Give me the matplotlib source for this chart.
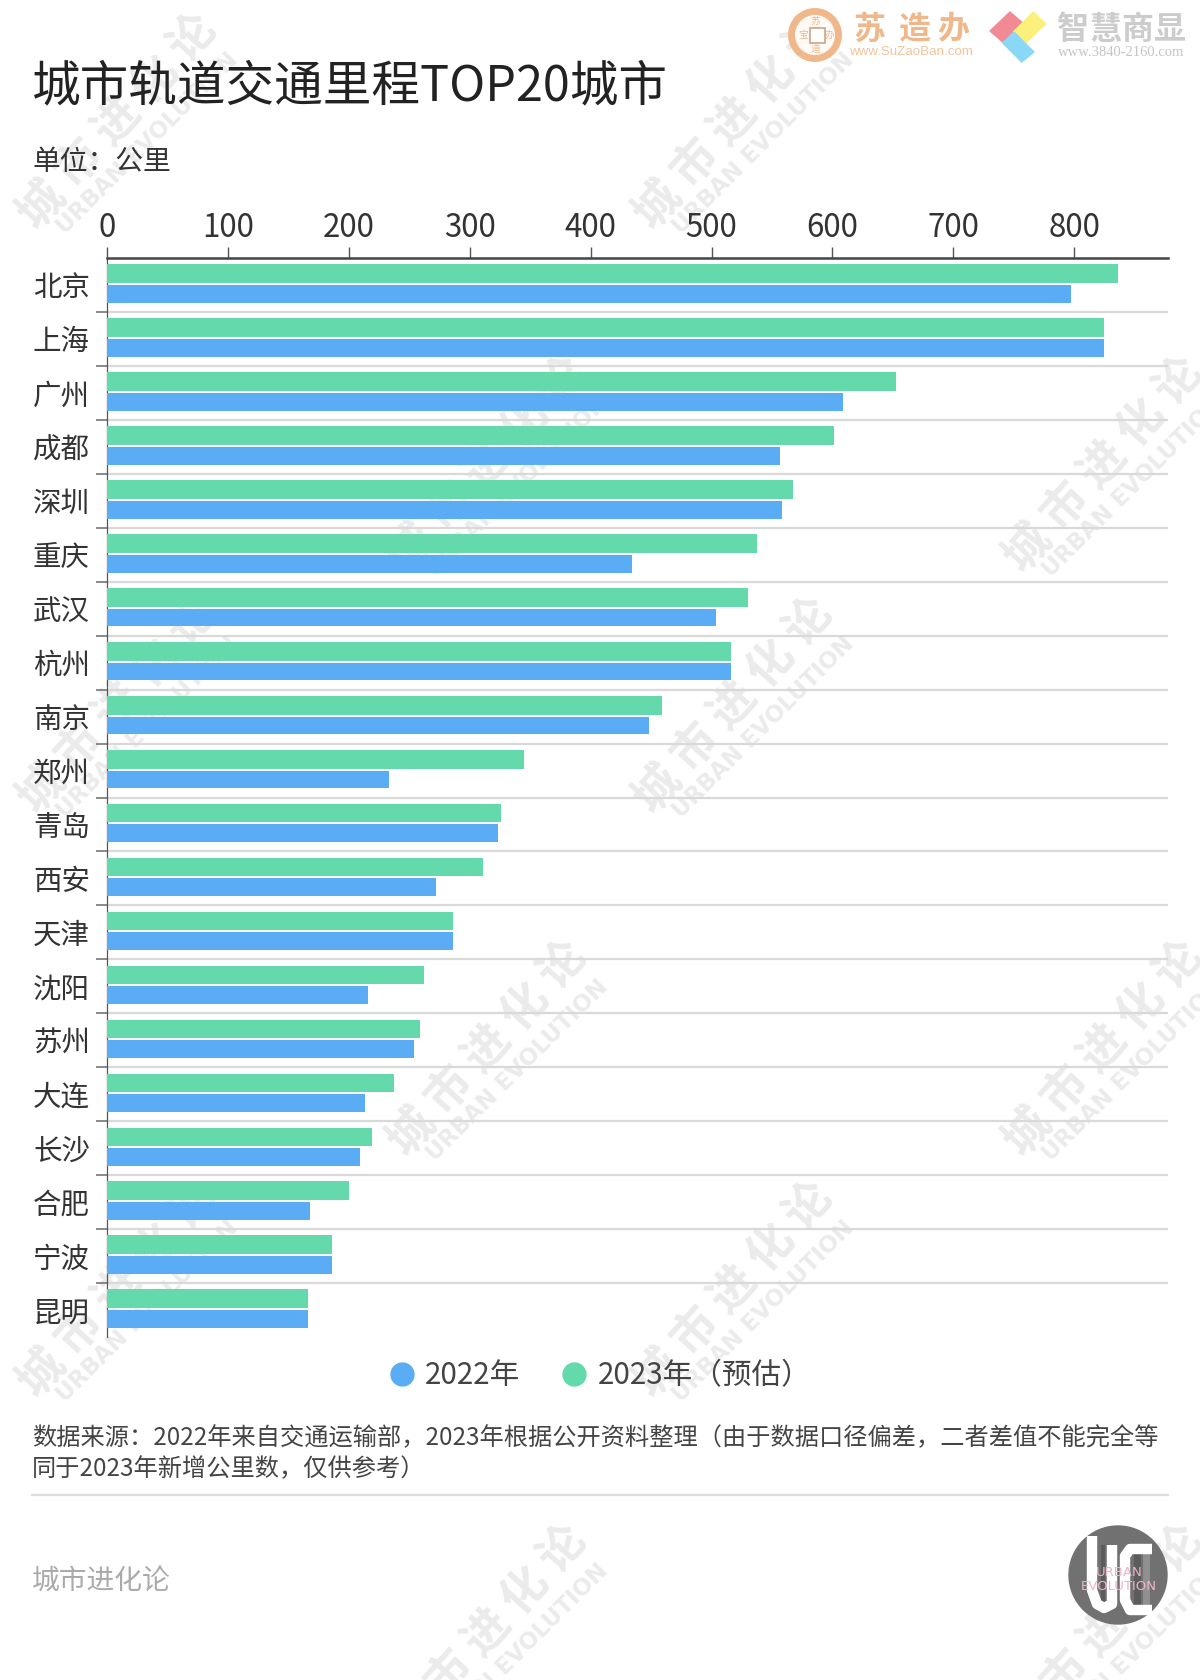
import matplotlib
matplotlib.use("Agg")
import matplotlib.pyplot as plt
from matplotlib.lines import Line2D
from matplotlib.patches import Polygon, Ellipse
import numpy as np

plt.rcParams['font.family'] = ['Noto Sans CJK SC', 'DejaVu Sans']

cities = ["北京", "上海", "广州", "成都", "深圳", "重庆", "武汉", "杭州", "南京", "郑州",
          "青岛", "西安", "天津", "沈阳", "苏州", "大连", "长沙", "合肥", "宁波", "昆明"]
km_2023 = [836, 825, 653, 601, 567, 538, 530, 516, 459, 345,
           326, 311, 286, 262, 259, 237, 219, 200, 186, 166]
km_2022 = [797, 825, 609, 557, 558, 434, 504, 516, 448, 233,
           323, 272, 286, 216, 254, 213, 209, 168, 186, 166]
xticks = [0, 100, 200, 300, 400, 500, 600, 700, 800]
series_names = ["2022年", "2023年（预估）"]

BLUE = "#5AADF5"
GREEN = "#64DAAC"
W, H = 1200, 1680

fig = plt.figure(figsize=(12, 16.8), dpi=100, facecolor="white")


def fx(x):
    return x / W


def fy(y):
    return 1 - y / H


def put(x, y, s, **kw):
    return fig.text(fx(x), fy(y), s, **kw)


def poly(points, **kw):
    fig.add_artist(Polygon([(fx(a), fy(b)) for a, b in points], closed=True, transform=fig.transFigure, **kw))


def path(points, **kw):
    fig.add_artist(Line2D([fx(a) for a, b in points], [fy(b) for a, b in points], **kw))


# watermarks behind everything
wm_color = "#ebebeb"
wm_centers = [(118, 123), (734, 123), (734, 707), (118, 707), (118, 1291), (734, 1291),
              (488, 466), (1104, 466), (488, 1050), (1104, 1050), (488, 1634), (1104, 1634)]
for cx, cy in wm_centers:
    put(cx, cy, "城 市 进 化 论", fontsize=33, fontweight="bold", color=wm_color, rotation=48,
        ha="center", va="center", rotation_mode="anchor", zorder=-5)
    put(cx + 29, cy + 20, "URBAN EVOLUTION", fontsize=16.5, fontweight="bold", color=wm_color,
        family="DejaVu Sans", rotation=45, ha="center", va="center", rotation_mode="anchor", zorder=-5)

# main axes
ax = fig.add_axes([fx(107), fy(1337), (1168 - 107) / W, (1337 - 258) / H])
ax.patch.set_alpha(0)
ax.set_xlim(0, (1168 - 107) / 1.209)
ax.set_ylim(20, 0)

y = np.arange(len(cities))
ax.barh(y + 0.29, km_2023, height=0.345, color=GREEN, zorder=3)
ax.barh(y + 0.665, km_2022, height=0.33, color=BLUE, zorder=3)

ax.xaxis.tick_top()
ax.set_xticks(xticks)
ax.set_xticklabels([str(v) for v in xticks], fontsize=22.5, color="#333333")
ax.tick_params(axis="x", length=8, width=1, color="#555555", pad=2)
ax.set_yticks(y + 0.5)
ax.set_yticklabels(cities, fontsize=20.5, color="#333333")
ax.tick_params(axis="y", length=0, pad=12.3)
ax.set_yticks(np.arange(1, 20), minor=True)
ax.tick_params(axis="y", which="minor", length=8, width=1.2, color="#777777")
ax.grid(axis="y", which="minor", color="#d9d9d9", lw=1.6, zorder=1)
for s in ("right", "bottom"):
    ax.spines[s].set_visible(False)
ax.spines["top"].set_color("#444444")
ax.spines["top"].set_linewidth(1.8)
ax.spines["left"].set_color("#555555")
ax.spines["left"].set_linewidth(0.9)

# legend
handles = [Line2D([], [], ls="", marker="o", ms=16.5, color=BLUE),
           Line2D([], [], ls="", marker="o", ms=16.5, color=GREEN)]
fig.legend(handles, series_names, loc="center", bbox_to_anchor=(fx(599), fy(1376)), ncol=2, frameon=False,
           fontsize=21.3, labelcolor="#444444", handlelength=1.0, handletextpad=0.3, columnspacing=1.3, borderpad=0)

# titles
put(32, 87, "城市轨道交通里程TOP20城市", fontsize=35, color="#222222", va="center", fontweight="medium")
put(32, 162, "单位：公里", fontsize=20, color="#333333", va="center")
put(32, 1438, "数据来源：2022年来自交通运输部，2023年根据公开资料整理（由于数据口径偏差，二者差值不能完全等",
    fontsize=17.45, color="#444444", va="center")
put(32, 1469, "同于2023年新增公里数，仅供参考）", fontsize=17.45, color="#444444", va="center")
path([(32, 1495), (1168, 1495)], color="#dddddd", lw=1.6)
put(32, 1582, "城市进化论", fontsize=20, color="#aaaaaa", va="center")

# UE logo
fig.add_artist(Ellipse((fx(1118), fy(1575)), 98 / W, 98 / H, color="#717171", transform=fig.transFigure))
for sx, w_, c in [(1103, 3, "#5c5c5c"), (1137, 5, "#5c5c5c"), (1146, 5, "#8f8f8f")]:
    path([(sx, 1545), (sx, 1605)], color=c, lw=w_, solid_capstyle="butt")
path([(1092, 1536), (1092, 1590), (1097, 1604), (1104, 1608), (1112, 1604), (1112, 1590), (1112, 1545)],
     color="white", lw=7.5, solid_capstyle="butt", solid_joinstyle="round")
path([(1152, 1549), (1130, 1549), (1125, 1556), (1125, 1600), (1130, 1610), (1152, 1610)],
     color="white", lw=7.5, solid_capstyle="butt", solid_joinstyle="round")
put(1119, 1572, "URBAN", fontsize=9.5, color="#eeb4ca", ha="center", va="center", family="DejaVu Sans")
put(1119, 1587, "EVOLUTION", fontsize=9.5, color="#eeb4ca", ha="center", va="center", family="DejaVu Sans")

# top-right logos
ORANGE = "#F0B88A"
fig.add_artist(Ellipse((fx(815), fy(35)), 47 / W, 47 / H, facecolor="#fffaf5", edgecolor=ORANGE, lw=5,
                       transform=fig.transFigure))
poly([(810, 28), (825, 28), (825, 43), (810, 43)], facecolor="white", edgecolor="#c9a488", lw=1.2)
for ch, (x0, y0) in zip("苏宝办造", [(815, 21), (803, 35), (829, 35), (815, 49)]):
    put(x0, y0, ch, fontsize=7, color=ORANGE, ha="center", va="center")
for ch, x0 in zip("苏造办", [869, 915, 953]):
    put(x0, 30, ch, fontsize=23, color=ORANGE, ha="center", va="center", fontweight="bold")
put(911, 52, "www.SuZaoBan.com", fontsize=9.6, color="#F2C49C", ha="center", va="center", family="Liberation Sans")

zx = lambda z: 780 + z / 3
poly([(zx(690), 12), (zx(728), 23), (zx(668), 42), (zx(630), 31)], color="#F28A96")
poly([(zx(760), 12), (zx(797), 24), (zx(737), 43), (zx(700), 32)], color="#FBF07C")
poly([(zx(702), 32), (zx(762), 52), (zx(725), 62), (zx(668), 43)], color="#8BD8F6")
for ch, x0 in zip("智慧商显", [1073, 1105, 1137, 1169]):
    put(x0, 30, ch, fontsize=23, color="#cccccc", ha="center", va="center", fontweight="bold")
put(1121, 53, "www.3840-2160.com", fontsize=10.5, color="#c4c4c4", ha="center", va="center",
    family="Liberation Serif")

fig.savefig("out.png", dpi=100)
